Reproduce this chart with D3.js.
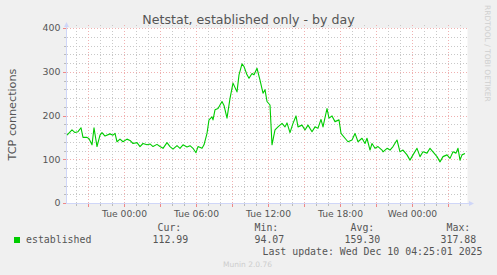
<!DOCTYPE html>
<html><head><meta charset="utf-8">
<script src="https://cdn.jsdelivr.net/npm/d3@7"></script>
<style>
html,body{margin:0;padding:0;background:#f0f0f0;}
svg{display:block;}
text{font-family:"DejaVu Sans",sans-serif;}
.mono{font-family:"DejaVu Sans Mono",monospace;}
</style></head>
<body><svg id="c" width="497" height="275"></svg>
<script>
const title = "Netstat, established only - by day";
const yLabel = "TCP connections";
const seriesName = "established";
const yTicks = [0, 100, 200, 300, 400];
const times = [
"2025-12-08 19:15","2025-12-08 19:40","2025-12-08 19:55","2025-12-08 20:10","2025-12-08 20:25","2025-12-08 20:35","2025-12-08 20:55","2025-12-08 21:05","2025-12-08 21:20","2025-12-08 21:30","2025-12-08 21:45","2025-12-08 22:00","2025-12-08 22:10","2025-12-08 22:25","2025-12-08 22:50","2025-12-08 23:05","2025-12-08 23:15","2025-12-08 23:25","2025-12-08 23:40","2025-12-08 23:55",
"2025-12-09 00:15","2025-12-09 00:30","2025-12-09 00:45","2025-12-09 01:05","2025-12-09 01:20","2025-12-09 01:35","2025-12-09 01:55","2025-12-09 02:10","2025-12-09 02:25","2025-12-09 02:45","2025-12-09 03:00","2025-12-09 03:15","2025-12-09 03:35","2025-12-09 03:50","2025-12-09 04:05","2025-12-09 04:25","2025-12-09 04:40","2025-12-09 04:55","2025-12-09 05:15","2025-12-09 05:30","2025-12-09 05:45","2025-12-09 06:00","2025-12-09 06:10","2025-12-09 06:30","2025-12-09 06:40","2025-12-09 06:55","2025-12-09 07:05","2025-12-09 07:20","2025-12-09 07:25","2025-12-09 07:35","2025-12-09 07:50","2025-12-09 08:10","2025-12-09 08:20","2025-12-09 08:35","2025-12-09 08:50","2025-12-09 09:05","2025-12-09 09:25","2025-12-09 09:35","2025-12-09 09:50","2025-12-09 10:00","2025-12-09 10:15","2025-12-09 10:25","2025-12-09 10:40","2025-12-09 10:50","2025-12-09 11:05","2025-12-09 11:20","2025-12-09 11:35","2025-12-09 11:45","2025-12-09 11:55","2025-12-09 12:10","2025-12-09 12:20","2025-12-09 12:35","2025-12-09 12:50","2025-12-09 13:10","2025-12-09 13:25","2025-12-09 13:35","2025-12-09 13:50","2025-12-09 14:05","2025-12-09 14:20","2025-12-09 14:30","2025-12-09 14:50","2025-12-09 15:05","2025-12-09 15:20","2025-12-09 15:40","2025-12-09 15:55","2025-12-09 16:10","2025-12-09 16:25","2025-12-09 16:35","2025-12-09 16:55","2025-12-09 17:05","2025-12-09 17:20","2025-12-09 17:35","2025-12-09 17:55","2025-12-09 18:05","2025-12-09 18:25","2025-12-09 18:40","2025-12-09 19:00","2025-12-09 19:15","2025-12-09 19:30","2025-12-09 19:50","2025-12-09 20:05","2025-12-09 20:15","2025-12-09 20:30","2025-12-09 20:40","2025-12-09 20:55","2025-12-09 21:10","2025-12-09 21:30","2025-12-09 21:35","2025-12-09 21:55","2025-12-09 22:10","2025-12-09 22:25","2025-12-09 22:45","2025-12-09 23:00","2025-12-09 23:15","2025-12-09 23:35","2025-12-09 23:50",
"2025-12-10 00:05","2025-12-10 00:25","2025-12-10 00:40","2025-12-10 00:55","2025-12-10 01:15","2025-12-10 01:30","2025-12-10 01:45","2025-12-10 02:05","2025-12-10 02:20","2025-12-10 02:35","2025-12-10 02:55","2025-12-10 03:10","2025-12-10 03:25","2025-12-10 03:40","2025-12-10 03:50","2025-12-10 04:00","2025-12-10 04:10","2025-12-10 04:25"
];
const established = [
155,167,161,163,172,150,150,147,133,172,129,155,161,153,158,155,159,140,146,140,
146,143,136,138,129,136,133,135,129,134,129,125,138,129,123,131,125,133,128,131,125,115,129,125,133,159,190,197,190,213,216,232,223,194,239,274,254,293,318,312,293,285,296,293,308,281,251,259,232,224,133,167,174,182,174,183,161,182,199,174,178,167,178,163,174,171,191,174,216,194,199,186,190,159,148,140,144,159,140,148,136,148,121,136,125,129,121,117,125,121,129,144,117,121,110,98,
110,125,106,117,114,125,117,106,94,106,110,102,117,114,125,98,110,113
];
const legendHeads = ["Cur:", "Min:", "Avg:", "Max:"];
const legendValues = ["112.99", "94.07", "159.30", "317.88"];
const lastUpdate = "Last update: Wed Dec 10 04:25:01 2025";
const footer = "Munin 2.0.76";
const watermark = "RRDTOOL / TOBI OETIKER";
const domainStart = "2025-12-08 19:15", domainEnd = "2025-12-10 04:35";

const parse = d3.timeParse("%Y-%m-%d %H:%M");
const data = times.map((t,i)=>({t:parse(t), v:established[i]}));
const svg = d3.select("#c");
const X0 = 67, X1 = 467, Y0 = 203, Y1 = 28;
const x = d3.scaleTime().domain([parse(domainStart), parse(domainEnd)]).range([X0, X1]);
const y = d3.scaleLinear().domain([0, 400]).range([Y0, Y1]);
const txt = "#555";

svg.append("rect").attr("x",X0-0.5).attr("y",Y1).attr("width",X1-X0+1).attr("height",Y0-Y1+0.5).attr("fill","#fff");

const g = svg.append("g");
const minorX = x.ticks(d3.timeHour.every(1));
const majorX = x.ticks(d3.timeHour.every(3));
const minorY = d3.range(0, 401, 20);
const px = v => Math.round(v) + 0.5;
const gridGrey = "#c8c8c8", gridRed = "#f0b0b0";
g.selectAll(".mgx").data(minorX).join("line")
  .attr("x1",d=>px(x(d))).attr("x2",d=>px(x(d))).attr("y1",Y1-3).attr("y2",Y0)
  .attr("stroke",gridGrey).attr("stroke-dasharray","1,2");
g.selectAll(".mgy").data(minorY).join("line")
  .attr("y1",d=>px(y(d))).attr("y2",d=>px(y(d))).attr("x1",X0).attr("x2",X1+1)
  .attr("stroke",gridGrey).attr("stroke-dasharray","1,2");
g.selectAll(".Mgx").data(majorX).join("line")
  .attr("x1",d=>px(x(d))).attr("x2",d=>px(x(d))).attr("y1",Y1-3).attr("y2",Y0)
  .attr("stroke",gridRed).attr("stroke-dasharray","1,2");
g.selectAll(".Mgy").data(yTicks).join("line")
  .attr("y1",d=>px(y(d))).attr("y2",d=>px(y(d))).attr("x1",X0).attr("x2",X1+1)
  .attr("stroke",gridRed).attr("stroke-dasharray","1,2");

// axis ticks
g.selectAll(".tmx").data(minorX).join("line")
  .attr("x1",d=>px(x(d))).attr("x2",d=>px(x(d))).attr("y1",Y0+1).attr("y2",Y0+3)
  .attr("stroke","#bbb");
g.selectAll(".tMx").data(majorX).join("line")
  .attr("x1",d=>px(x(d))).attr("x2",d=>px(x(d))).attr("y1",Y0+1).attr("y2",Y0+4)
  .attr("stroke","#e88");
g.selectAll(".tmy").data(minorY).join("line")
  .attr("y1",d=>px(y(d))).attr("y2",d=>px(y(d))).attr("x1",X0-3).attr("x2",X0-1)
  .attr("stroke","#bbb");
g.selectAll(".tMy").data(yTicks).join("line")
  .attr("y1",d=>px(y(d))).attr("y2",d=>px(y(d))).attr("x1",X0-4).attr("x2",X0-1)
  .attr("stroke","#e88");

// axes lines with arrows
const axc = "#cfd6f8";
svg.append("line").attr("x1",X0-0.5).attr("x2",X0-0.5).attr("y1",Y0+1).attr("y2",Y1-4).attr("stroke",axc);
svg.append("line").attr("x1",X0-1).attr("x2",X1+4).attr("y1",Y0+0.5).attr("y2",Y0+0.5).attr("stroke",axc);
svg.append("path").attr("d",`M${X0-3},${Y1-1}L${X0+2},${Y1-1}L${X0-0.5},${Y1-6}Z`).attr("fill",axc);
svg.append("path").attr("d",`M${X1+2},${Y0-2}L${X1+2},${Y0+3}L${X1+7},${Y0+0.5}Z`).attr("fill",axc);

// line
const line = d3.line().x(d=>x(d.t)).y(d=>y(d.v));
svg.append("path").datum(data).attr("d",line).attr("fill","none")
  .attr("stroke","#00cc00").attr("stroke-width",1.1).attr("stroke-linejoin","round");

// tick labels
const fmt = d3.timeFormat("%a %H:%M");
svg.selectAll(".xl").data(x.ticks(d3.timeHour.every(6))).join("text")
  .attr("x",d=>x(d)+0.5).attr("y",216.5).attr("text-anchor","middle")
  .attr("font-size","9.2px").attr("fill",txt).text(d=>fmt(d));
svg.selectAll(".yl").data(yTicks).join("text")
  .attr("x",60.5).attr("y",d=>y(d)+3.4).attr("text-anchor","end")
  .attr("font-size","9.4px").attr("fill",txt).text(d=>d);

// title & labels
svg.append("text").attr("x",248.5).attr("y",24).attr("text-anchor","middle")
  .attr("font-size","12.6px").attr("fill",txt).text(title);
svg.append("text").attr("transform","translate(15.5,114.5) rotate(-90)").attr("text-anchor","middle")
  .attr("font-size","11.2px").attr("fill",txt).text(yLabel);
svg.append("text").attr("transform","translate(485,5) rotate(90)").attr("text-anchor","start")
  .attr("font-size","7.5px").attr("fill","#cfcfcf").text(watermark);

// legend
svg.append("rect").attr("x",14).attr("y",237).attr("width",6).attr("height",6).attr("fill","#00cc00");
svg.append("text").attr("class","mono").attr("x",26).attr("y",243).attr("font-size","9.9px").attr("fill",txt).text(seriesName);
const headX = [158, 255, 351, 447];
const valX = [153, 255, 345, 441];
svg.selectAll(".lh").data(legendHeads).join("text").attr("class","mono")
  .attr("x",(d,i)=>headX[i]-0.5).attr("y",231).attr("font-size","9.9px").attr("fill",txt).text(d=>d);
svg.selectAll(".lv").data(legendValues).join("text").attr("class","mono")
  .attr("x",(d,i)=>valX[i]-0.5).attr("y",243).attr("font-size","9.9px").attr("fill",txt).text(d=>d);
svg.append("text").attr("class","mono").attr("x",482.5).attr("y",255).attr("text-anchor","end")
  .attr("font-size","9.9px").attr("fill",txt).text(lastUpdate);
svg.append("text").attr("x",247.5).attr("y",266.5).attr("text-anchor","middle")
  .attr("font-size","7.5px").attr("fill","#cdcdcd").text(footer);
</script></body></html>
